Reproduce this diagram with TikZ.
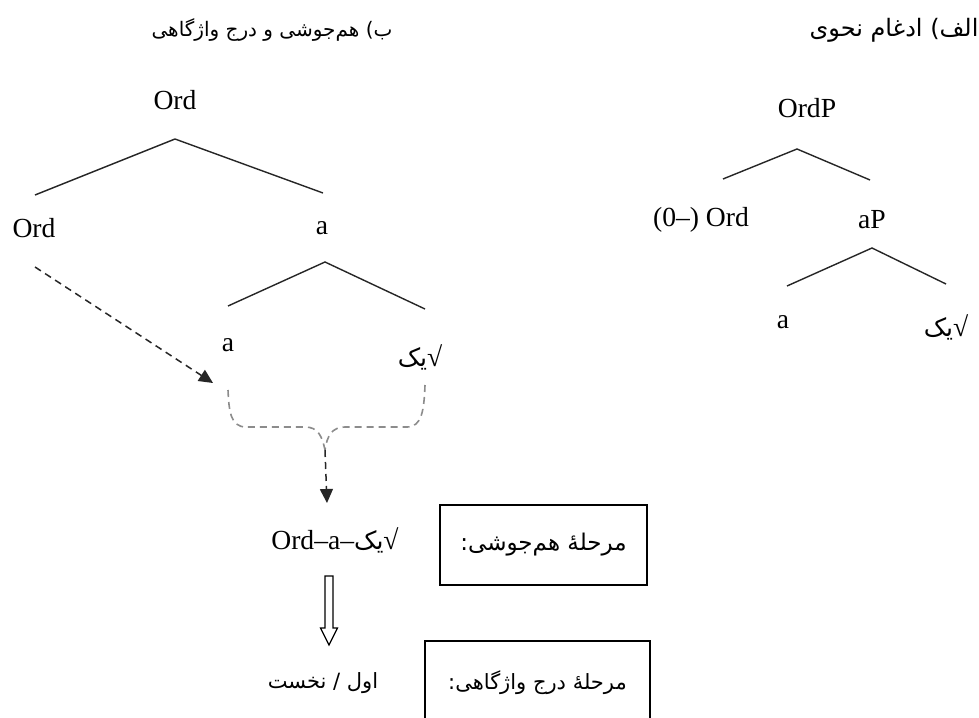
\documentclass[tikz,border=0pt]{standalone}
\usepackage{fontspec}
\setmainfont{Liberation Serif}
\newfontfamily\arabicfont[Script=Arabic]{DejaVu Sans}
\TeXXeTstate=1
\usetikzlibrary{arrows.meta}
\newcommand{\perf}[1]{\arabicfont\fontsize{#1}{#1}\selectfont}
\newcommand{\yekroot}{{\perf{12.5}\beginR یک\endR}√}
\begin{document}
\begin{tikzpicture}[x=0.5pt,y=-0.5pt,
  lat/.style={font=\fontsize{13.8}{16}\selectfont, inner sep=0pt},
  per/.style={font=\perf{#1}, inner sep=0pt},
  per/.default=10.5,
  branch/.style={line width=0.7pt, black!85},
  dasharrow/.style={line width=0.75pt, black!85, dash pattern=on 3.5pt off 2.5pt,
     -{Triangle[length=7pt,width=6.5pt]}},
  bracepath/.style={line width=0.8pt, black!45, dash pattern=on 3.5pt off 2.5pt},
  stagebox/.style={draw, line width=0.75pt, inner sep=0pt}]
\clip (0,0) rectangle (979,717);
\fill[white] (0,0) rectangle (979,717);

% titles
\node[per=12] (titleA) at (894,30) {\beginR الف) ادغام نحوی\endR};
\node[per=10] (titleB) at (272,30) {\beginR ب) هم‌جوشی و درج واژگاهی\endR};

% ---------- right tree (a)
\node[lat] (ordP) at (807,108) {OrdP};
\coordinate (rA1) at (797,149);
\coordinate (rL1) at (723,179);
\coordinate (rR1) at (870,180);
\draw[branch] (rL1) -- (rA1) -- (rR1);
\node[lat] (ordZero) at (701,220) {(0–) Ord};
\node[lat] (aP) at (872,220) {aP};
\coordinate (rA2) at (872,248);
\coordinate (rL2) at (787,286);
\coordinate (rR2) at (946,284);
\draw[branch] (rL2) -- (rA2) -- (rR2);
\node[lat] (aR) at (783,322) {a};
\node[lat] (rootR) at (946,327) {\yekroot};

% ---------- left tree (b)
\node[lat] (ordTop) at (175,100) {Ord};
\coordinate (lA1) at (175,139);
\coordinate (lL1) at (35,195);
\coordinate (lR1) at (323,193);
\draw[branch] (lL1) -- (lA1) -- (lR1);
\node[lat] (ordL) at (34,228) {Ord};
\node[lat] (aTop) at (322,228) {a};
\coordinate (lA2) at (325,262);
\coordinate (lL2) at (228,306);
\coordinate (lR2) at (425,309);
\draw[branch] (lL2) -- (lA2) -- (lR2);
\node[lat] (aLeaf) at (228,345) {a};
\node[lat] (rootL) at (420,357) {\yekroot};

% dashed arrow from Ord
\coordinate (ordOut) at (35,267);
\coordinate (ordIn) at (213,383);
\draw[dasharrow] (ordOut) -- (ordIn);

% gray brace
\coordinate (brL) at (228,390);
\coordinate (brR) at (425,385);
\coordinate (brJ) at (325,450);
\coordinate (fuseIn) at (327,503);
\draw[bracepath] (brL) .. controls (229,410) and (230,427) .. (246,427) -- (305,427)
   .. controls (318,427) and (322,436) .. (brJ);
\draw[bracepath] (brR) .. controls (424,410) and (422,427) .. (407,427) -- (345,427)
   .. controls (332,427) and (327,436) .. (brJ);
\draw[dasharrow] (brJ) -- (fuseIn);

% fusion result
\node[lat] (fused) at (335,540) {Ord–a–\yekroot};
\node[stagebox, minimum width=103.5pt, minimum height=40pt, font=\perf{11.5}] (box1) at (543.5,545)
   {\beginR مرحلهٔ هم‌جوشی:\endR};

% hollow arrow
\draw[line width=0.6pt, fill=white] (325,576) -- (333,576) -- (333,628) -- (337.5,628)
   -- (329,645) -- (320.5,628) -- (325,628) -- cycle;

% vocabulary insertion
\node[per] (leafWord) at (323,683) {\beginR اول / نخست\endR};
\node[stagebox, minimum width=112.5pt, minimum height=42pt, font=\perf{10.5}] (box2) at (537.5,683)
   {\beginR مرحلهٔ درج واژگاهی:\endR};
\end{tikzpicture}
\end{document}
